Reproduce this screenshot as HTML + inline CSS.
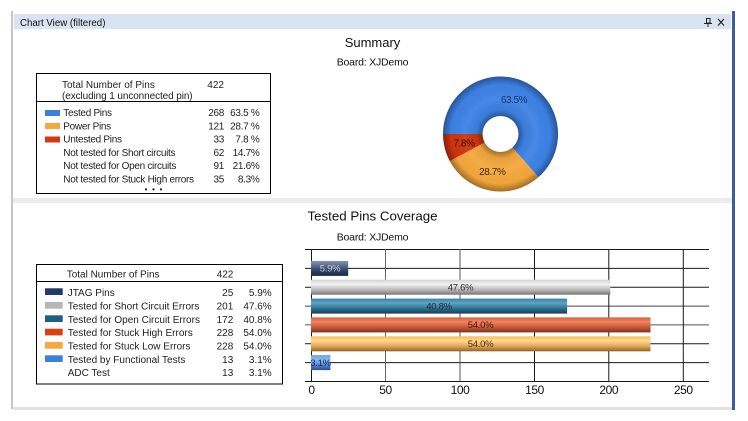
<!DOCTYPE html>
<html><head><meta charset="utf-8"><style>
html,body{margin:0;padding:0;background:#fff;}
svg{display:block;font-family:"Liberation Sans",sans-serif;}
</style></head><body>
<svg width="748" height="421" viewBox="0 0 748 421" xmlns="http://www.w3.org/2000/svg">
<defs>
<linearGradient id="gNavy" x1="0" y1="0" x2="0" y2="1"><stop offset="0" stop-color="#8696b0"/><stop offset="0.3" stop-color="#5c6f8e"/><stop offset="0.65" stop-color="#2e4266"/><stop offset="1" stop-color="#1a2944"/></linearGradient>
<linearGradient id="gGray" x1="0" y1="0" x2="0" y2="1"><stop offset="0" stop-color="#d0d0d0"/><stop offset="0.3" stop-color="#f2f2f2"/><stop offset="0.7" stop-color="#b4b4b4"/><stop offset="1" stop-color="#747474"/></linearGradient>
<linearGradient id="gTeal" x1="0" y1="0" x2="0" y2="1"><stop offset="0" stop-color="#3a7fa0"/><stop offset="0.3" stop-color="#5ea4c4"/><stop offset="0.7" stop-color="#2a6a8a"/><stop offset="1" stop-color="#183e54"/></linearGradient>
<linearGradient id="gRed" x1="0" y1="0" x2="0" y2="1"><stop offset="0" stop-color="#e05c3a"/><stop offset="0.3" stop-color="#f08462"/><stop offset="0.7" stop-color="#c05432"/><stop offset="1" stop-color="#7a3422"/></linearGradient>
<linearGradient id="gOrange" x1="0" y1="0" x2="0" y2="1"><stop offset="0" stop-color="#f6bc5c"/><stop offset="0.3" stop-color="#ffd890"/><stop offset="0.7" stop-color="#dca050"/><stop offset="1" stop-color="#8e6426"/></linearGradient>
<linearGradient id="gBlue" x1="0" y1="0" x2="0" y2="1"><stop offset="0" stop-color="#6aa0e0"/><stop offset="0.3" stop-color="#8cbaf2"/><stop offset="0.7" stop-color="#4a80d0"/><stop offset="1" stop-color="#2a5090"/></linearGradient>
<radialGradient id="gRing" gradientUnits="userSpaceOnUse" cx="500.5" cy="134" r="57.5">
<stop offset="0.31" stop-color="#000" stop-opacity="0.35"/>
<stop offset="0.42" stop-color="#000" stop-opacity="0.05"/>
<stop offset="0.62" stop-color="#fff" stop-opacity="0.06"/>
<stop offset="0.86" stop-color="#000" stop-opacity="0.02"/>
<stop offset="1" stop-color="#000" stop-opacity="0.35"/>
</radialGradient>
</defs>

<!-- frame -->
<rect x="11" y="11" width="2" height="398" fill="#c6c6c6"/>
<rect x="732" y="11" width="3" height="399" fill="#3f5c9e"/>
<rect x="14" y="14" width="717" height="15" fill="#d8e4f2"/>
<text x="20" y="26" font-size="9.7" fill="#111">Chart View (filtered)</text>
<!-- pin icon -->
<rect x="706.5" y="18.5" width="3.5" height="4.5" fill="none" stroke="#222" stroke-width="1"/>
<line x1="704" y1="23.5" x2="712" y2="23.5" stroke="#222" stroke-width="1"/>
<line x1="708" y1="23.5" x2="708" y2="27" stroke="#222" stroke-width="1"/>
<!-- close X -->
<line x1="718" y1="19" x2="724" y2="25.5" stroke="#222" stroke-width="1.2"/>
<line x1="724" y1="19" x2="718" y2="25.5" stroke="#222" stroke-width="1.2"/>

<rect x="13" y="198" width="719" height="5" fill="#ececec"/>
<rect x="13" y="407" width="719" height="3" fill="#e2e2e2"/>

<!-- Summary -->
<text x="372.5" y="47" font-size="13" text-anchor="middle" fill="#111">Summary</text>
<text x="372.5" y="65.5" font-size="10.5" text-anchor="middle" fill="#111" letter-spacing="-0.2">Board: XJDemo</text>

<!-- top legend box -->
<rect x="36.5" y="73.5" width="234" height="120" fill="#fff" stroke="#000" stroke-width="1"/>
<line x1="36" y1="101.5" x2="271" y2="101.5" stroke="#000" stroke-width="1"/>
<g font-size="10" fill="#222">
<text x="62" y="88">Total Number of Pins</text>
<text x="62" y="99" letter-spacing="-0.1">(excluding 1 unconnected pin)</text>
<text x="207.3" y="88">422</text>
</g>
<rect x="45" y="110" width="15" height="6" fill="#3a80e0"/>
<rect x="45" y="123" width="15" height="6" fill="#f5a83c"/>
<rect x="45" y="136.5" width="15" height="6" fill="#d3380e"/>
<g font-size="10" fill="#222" letter-spacing="-0.3">
<text x="63.3" y="116">Tested Pins</text>
<text x="63.3" y="129.3">Power Pins</text>
<text x="63.3" y="142.6">Untested Pins</text>
<text x="63.3" y="156">Not tested for Short circuits</text>
<text x="63.3" y="169">Not tested for Open circuits</text>
<text x="63.3" y="182.3">Not tested for Stuck High errors</text>
</g>
<g font-size="10" fill="#222" letter-spacing="-0.3" text-anchor="end">
<text x="224" y="116">268</text>
<text x="224" y="129.3">121</text>
<text x="224" y="142.6">33</text>
<text x="224" y="156">62</text>
<text x="224" y="169">91</text>
<text x="224" y="182.3">35</text>
<text x="259.5" y="116">63.5 %</text>
<text x="259.5" y="129.3">28.7 %</text>
<text x="259.5" y="142.6">7.8 %</text>
<text x="259.5" y="156">14.7%</text>
<text x="259.5" y="169">21.6%</text>
<text x="259.5" y="182.3">8.3%</text>
</g>
<circle cx="146" cy="189.4" r="1.1" fill="#222"/>
<circle cx="153.5" cy="189.4" r="1.1" fill="#222"/>
<circle cx="161" cy="189.4" r="1.1" fill="#222"/>

<!-- donut -->
<path d="M443,134 A57.5,57.5 0 1 1 538.52,177.13 L512.4,147.5 A18,18 0 1 0 482.5,134 Z" fill="#3d82e6"/>
<path d="M538.52,177.13 A57.5,57.5 0 0 1 449.78,161.08 L484.62,142.48 A18,18 0 0 0 512.4,147.5 Z" fill="#f5a83c"/>
<path d="M449.78,161.08 A57.5,57.5 0 0 1 443,134 L482.5,134 A18,18 0 0 0 484.62,142.48 Z" fill="#d0340e"/>
<path d="M443,134 A57.5,57.5 0 1 1 558,134 A57.5,57.5 0 1 1 443,134 Z M482.5,134 A18,18 0 1 0 518.5,134 A18,18 0 1 0 482.5,134 Z" fill="url(#gRing)" fill-rule="evenodd"/>
<g font-size="10" letter-spacing="-0.4" text-anchor="middle">
<text x="514" y="103" fill="#1a3466">63.5%</text>
<text x="492.3" y="175" fill="#3a2a10">28.7%</text>
<text x="464" y="146.4" fill="#3a0e06">7.8%</text>
</g>

<!-- Tested Pins Coverage -->
<text x="372.5" y="220.7" font-size="13.3" text-anchor="middle" fill="#111">Tested Pins Coverage</text>
<text x="372.5" y="240.5" font-size="10.5" text-anchor="middle" fill="#111" letter-spacing="-0.2">Board: XJDemo</text>

<!-- bottom legend box -->
<rect x="36.5" y="264.5" width="246" height="119.5" fill="#fff" stroke="#000" stroke-width="1"/>
<line x1="36" y1="281.5" x2="283" y2="281.5" stroke="#000" stroke-width="1"/>
<g font-size="10" fill="#222">
<text x="66.7" y="277.5">Total Number of Pins</text>
<text x="216.7" y="277.5">422</text>
</g>
<rect x="45" y="288.3" width="17.7" height="6.7" fill="#1f3a68"/>
<rect x="45" y="302" width="17.7" height="6.7" fill="#b6b6b6"/>
<rect x="45" y="315.3" width="17.7" height="6.7" fill="#1f5f87"/>
<rect x="45" y="328.7" width="17.7" height="6.7" fill="#d8400f"/>
<rect x="45" y="342" width="17.7" height="6.7" fill="#f5a840"/>
<rect x="45" y="355.3" width="17.7" height="6.7" fill="#3a80e0"/>
<g font-size="10" fill="#222">
<text x="67.7" y="295.8">JTAG Pins</text>
<text x="67.7" y="309.5">Tested for Short Circuit Errors</text>
<text x="67.7" y="322.8">Tested for Open Circuit Errors</text>
<text x="67.7" y="336.2">Tested for Stuck High Errors</text>
<text x="67.7" y="349.5">Tested for Stuck Low Errors</text>
<text x="67.7" y="362.8">Tested by Functional Tests</text>
<text x="67.7" y="376.2">ADC Test</text>
</g>
<g font-size="10" fill="#222" text-anchor="end">
<text x="233.3" y="295.8">25</text>
<text x="233.3" y="309.5">201</text>
<text x="233.3" y="322.8">172</text>
<text x="233.3" y="336.2">228</text>
<text x="233.3" y="349.5">228</text>
<text x="233.3" y="362.8">13</text>
<text x="233.3" y="376.2">13</text>
<text x="271.7" y="295.8">5.9%</text>
<text x="271.7" y="309.5">47.6%</text>
<text x="271.7" y="322.8">40.8%</text>
<text x="271.7" y="336.2">54.0%</text>
<text x="271.7" y="349.5">54.0%</text>
<text x="271.7" y="362.8">3.1%</text>
<text x="271.7" y="376.2">3.1%</text>
</g>

<!-- bar chart grid -->
<g stroke="#1a1a1a" stroke-width="1">
<line x1="305" y1="249.5" x2="709" y2="249.5"/>
<line x1="305" y1="268.4" x2="709" y2="268.4"/>
<line x1="305" y1="287.2" x2="709" y2="287.2"/>
<line x1="305" y1="306.1" x2="709" y2="306.1" stroke="#444"/>
<line x1="305" y1="324.9" x2="709" y2="324.9" stroke="#555"/>
<line x1="305" y1="343.8" x2="709" y2="343.8"/>
<line x1="305" y1="362.6" x2="709" y2="362.6"/>
<line x1="305" y1="381.5" x2="709" y2="381.5"/>
<line x1="311.5" y1="249" x2="311.5" y2="382"/>
<line x1="385.5" y1="249" x2="385.5" y2="381" stroke="#666"/>
<line x1="460" y1="249" x2="460" y2="381" stroke="#555"/>
<line x1="534.5" y1="249" x2="534.5" y2="381"/>
<line x1="608.8" y1="249" x2="608.8" y2="381"/>
<line x1="683.3" y1="249" x2="683.3" y2="381"/>
</g>

<!-- bars -->
<rect x="311" y="260.9" width="37.2" height="15" fill="url(#gNavy)"/>
<rect x="311" y="279.7" width="299.3" height="15" fill="url(#gGray)"/>
<rect x="311" y="298.6" width="256.1" height="15" fill="url(#gTeal)"/>
<rect x="311" y="317.4" width="339.5" height="15" fill="url(#gRed)"/>
<rect x="311" y="336.3" width="339.5" height="15" fill="url(#gOrange)"/>
<rect x="311" y="355.1" width="19.4" height="15" fill="url(#gBlue)"/>
<g font-size="9.5" letter-spacing="-0.3" text-anchor="middle">
<text x="330" y="271.7" fill="#c8ccd6">5.9%</text>
<text x="460.5" y="290.5" fill="#333">47.6%</text>
<text x="439" y="309.4" fill="#1a2a36">40.8%</text>
<text x="480.5" y="328.2" fill="#4a2010">54.0%</text>
<text x="480.5" y="347.1" fill="#4a3010">54.0%</text>
<text x="320.5" y="365.9" fill="#1a2a50">3.1%</text>
</g>
<g font-size="12" fill="#111" letter-spacing="-0.4" text-anchor="middle">
<text x="311.5" y="393.8">0</text>
<text x="385.5" y="393.8">50</text>
<text x="460" y="393.8">100</text>
<text x="534.5" y="393.8">150</text>
<text x="608.8" y="393.8">200</text>
<text x="683.3" y="393.8">250</text>
</g>
</svg>
</body></html>
